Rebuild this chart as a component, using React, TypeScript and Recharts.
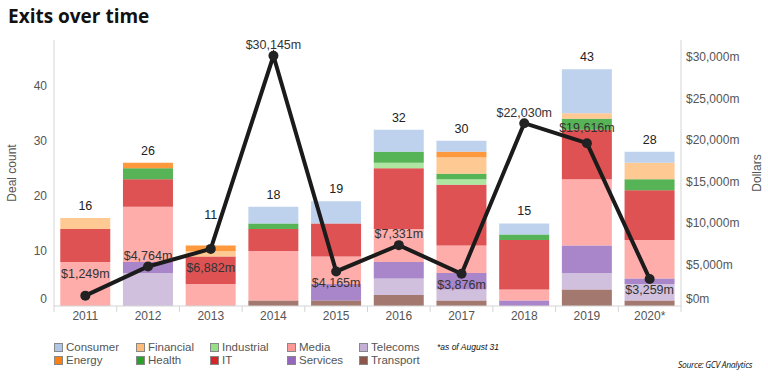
import { ComposedChart, Bar, Line, XAxis, YAxis, LabelList } from "recharts";

const years = ["2011", "2012", "2013", "2014", "2015", "2016", "2017", "2018", "2019", "2020*"];

const sectors = ["Consumer", "Energy", "Financial", "Health", "Industrial", "IT", "Media", "Services", "Telecoms", "Transport"];
const sectorColors = ["#aec7e8", "#ff7f0e", "#ffbb78", "#2ca02c", "#98df8a", "#d62728", "#ff9896", "#9467bd", "#c5b0d5", "#8c564b"];

// deal counts per sector, one value per year
const consumer = [0, 0, 0, 3, 4, 4, 2, 2, 8, 2];
const energy = [0, 1, 1, 0, 0, 0, 1, 0, 0, 0];
const financial = [2, 0, 1, 0, 0, 0, 3, 0, 1, 3];
const health = [0, 2, 0, 1, 0, 2, 1, 1, 2, 2];
const industrial = [0, 0, 0, 0, 0, 1, 1, 0, 0, 0];
const it = [6, 5, 5, 4, 6, 11, 11, 9, 9, 9];
const media = [8, 10, 4, 9, 5, 6, 5, 2, 12, 7];
const services = [0, 2, 0, 0, 3, 3, 3, 1, 5, 1];
const telecoms = [0, 6, 0, 0, 0, 3, 2, 0, 3, 3];
const transport = [0, 0, 0, 1, 1, 2, 1, 0, 3, 1];

// exit value, $m
const dollars = [1249, 4764, 6882, 30145, 4165, 7331, 3876, 22030, 19616, 3259];

// label nudges so text clears the line
const dollarLabelDy = [-22, -11, 19, -11, 11, -12, 11, -11, -16, 11];
const countLabelDy = [0, 0, -18, 0, 0, 0, 0, 0, 0, 0];

const countTicks = [0, 10, 20, 30, 40];
const dollarTicks = [0, 5000, 10000, 15000, 20000, 25000, 30000];

const sectorValues = [consumer, energy, financial, health, industrial, it, media, services, telecoms, transport];

const data = years.map((year, i) => {
  const row: Record<string, number | string> = { year, dollars: dollars[i] };
  let total = 0;
  sectors.forEach((s, k) => {
    row[s] = sectorValues[k][i];
    total += sectorValues[k][i];
  });
  row.total = total;
  return row;
});

const PLOT_LEFT = 54;
const PLOT_RIGHT = 681;
const PLOT_BOTTOM = 306;
const BAND = (PLOT_RIGHT - PLOT_LEFT) / years.length;
const AXIS_FONT = "'Liberation Sans', Arial, sans-serif";

const fmtDollars = (v: number) => `$${v.toLocaleString("en-US")}m`;

function XTick({ x, y, payload, index }: any) {
  const last = index === years.length - 1;
  return (
    <g>
      <line x1={x - BAND / 2} x2={x - BAND / 2} y1={PLOT_BOTTOM} y2={PLOT_BOTTOM + 6} stroke="#d4d4d4" />
      {last && <line x1={x + BAND / 2} x2={x + BAND / 2} y1={PLOT_BOTTOM} y2={PLOT_BOTTOM + 6} stroke="#d4d4d4" />}
      <text x={x} y={y} dy="0.71em" textAnchor="middle" fill="#555" fontSize={12} fontFamily={AXIS_FONT}>
        {payload.value}
      </text>
    </g>
  );
}

function YTick({ x, y, payload, textAnchor, right }: any) {
  const v = payload.value as number;
  return (
    <text x={x} y={v === 0 ? y - 7 : y} dy="0.355em" textAnchor={textAnchor} fill="#555" fontSize={12} fontFamily={AXIS_FONT}>
      {right ? fmtDollars(v) : v}
    </text>
  );
}

function CountLabel({ x, y, value, index }: any) {
  return (
    <text x={x} y={y - 8 + countLabelDy[index]} textAnchor="middle" fill="#222" fontSize={12.5} fontFamily={AXIS_FONT}>
      {value}
    </text>
  );
}

function DollarLabel({ x, y, value, index }: any) {
  return (
    <text x={x} y={y + dollarLabelDy[index]} dy="0.355em" textAnchor="middle" fill="#333" fontSize={12.5} fontFamily={AXIS_FONT}>
      {fmtDollars(value)}
    </text>
  );
}

export default function App() {
  const stackOrder = sectors.map((s, k) => ({ name: s, color: sectorColors[k] })).reverse();
  const half = Math.ceil(sectors.length / 2);
  return (
    <div style={{ position: "absolute", left: 0, top: 0, width: 768, height: 378, background: "#fff", overflow: "hidden" }}>
      <div style={{ position: "absolute", left: 8, top: 3, fontFamily: "'Open Sans', sans-serif", fontWeight: 700, fontSize: 19, color: "#111", lineHeight: "26px" }}>
        Exits over time
      </div>
      <div style={{ position: "absolute", left: 0, top: 0 }}>
        <ComposedChart width={768} height={378} data={data} margin={{ top: 40, right: 0, bottom: 42, left: 0 }} barCategoryGap="10%">
          <XAxis dataKey="year" height={30} axisLine={{ stroke: "#d4d4d4" }} tickLine={false} tickSize={0} tickMargin={5} tick={<XTick />} interval={0} />
          <YAxis
            yAxisId="left"
            width={54}
            domain={[0, 48.3]}
            ticks={countTicks}
            axisLine={{ stroke: "#d4d4d4" }}
            tickLine={false}
            tickSize={0}
            tickMargin={7}
            tick={<YTick />}
            label={{ value: "Deal count", angle: -90, position: "center", dx: -15, fill: "#555", fontSize: 12, fontFamily: AXIS_FONT }}
          />
          <YAxis
            yAxisId="right"
            orientation="right"
            width={87}
            domain={[0, 32050]}
            ticks={dollarTicks}
            axisLine={{ stroke: "#d4d4d4" }}
            tickLine={false}
            tickSize={0}
            tickMargin={5}
            tick={<YTick right />}
            label={{ value: "Dollars", angle: -90, position: "center", dx: 32, fill: "#555", fontSize: 12, fontFamily: AXIS_FONT }}
          />
          {stackOrder.map((s) => (
            <Bar key={s.name} yAxisId="left" dataKey={s.name} stackId="deals" fill={s.color} fillOpacity={0.8} isAnimationActive={false} />
          ))}
          <Line yAxisId="left" dataKey="total" stroke="none" dot={false} activeDot={false} isAnimationActive={false}>
            <LabelList dataKey="total" content={<CountLabel />} />
          </Line>
          <Line
            yAxisId="right"
            dataKey="dollars"
            stroke="#1b1b1b"
            strokeWidth={4}
            dot={{ r: 5, fill: "#222", stroke: "#222", strokeWidth: 0 }}
            activeDot={false}
            isAnimationActive={false}
          >
            <LabelList dataKey="dollars" content={<DollarLabel />} />
          </Line>
        </ComposedChart>
      </div>
      {[0, 1].map((row) => (
        <div key={row}>
          {Array.from({ length: half }).map((_, col) => {
            const k = col * 2 + row;
            if (k >= sectors.length) return null;
            const colX = [54, 136, 210, 287, 359][col];
            return (
              <div
                key={k}
                style={{
                  position: "absolute",
                  left: colX,
                  top: 341 + row * 12.5,
                  display: "flex",
                  alignItems: "center",
                  fontFamily: AXIS_FONT,
                  fontSize: 11.5,
                  color: "#555",
                  lineHeight: "13px",
                  whiteSpace: "nowrap",
                }}
              >
                <span style={{ display: "inline-block", width: 7, height: 7, background: sectorColors[k], border: "1px solid #888", marginRight: 3 }} />
                {sectors[k]}
              </div>
            );
          })}
        </div>
      ))}
      <div style={{ position: "absolute", left: 437, top: 342, fontFamily: AXIS_FONT, fontStyle: "italic", fontSize: 8.5, color: "#111" }}>
        *as of August 31
      </div>
      <div style={{ position: "absolute", left: 678, top: 359, fontFamily: "'Open Sans', sans-serif", fontStyle: "italic", fontSize: 8.5, color: "#111", letterSpacing: -0.3 }}>
        Source: GCV Analytics
      </div>
    </div>
  );
}
